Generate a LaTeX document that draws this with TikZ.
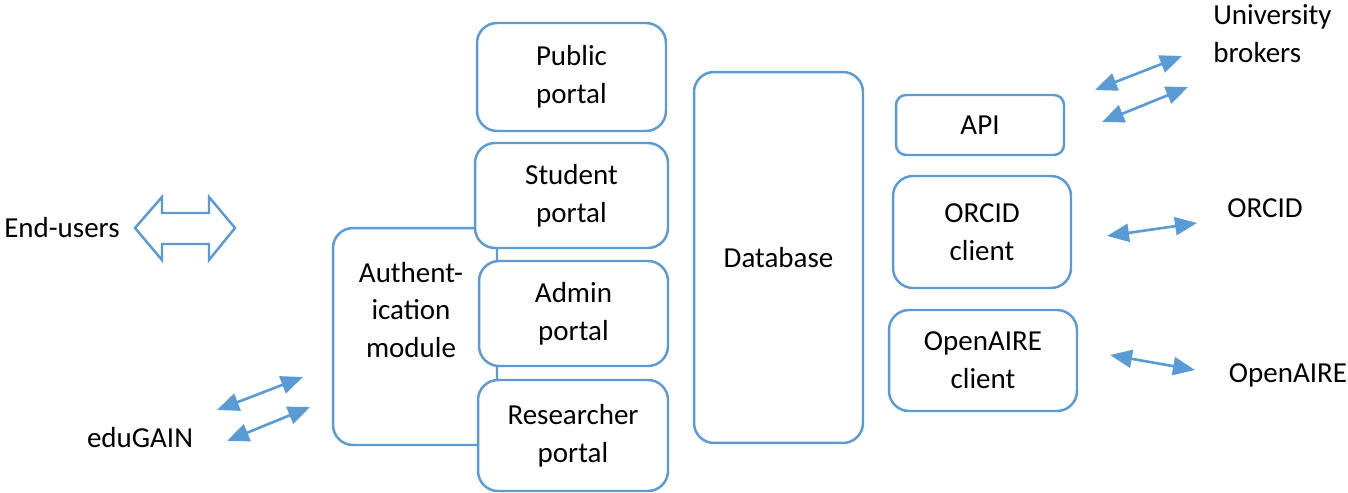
\documentclass[tikz,border=0pt]{standalone}
\usepackage{fontspec}
\setmainfont{Carlito}
\usetikzlibrary{arrows.meta}
\definecolor{boxblue}{HTML}{5B9BD5}

\begin{document}
\begin{tikzpicture}[
            x = 0.02cm, y = -0.02cm,
            every node/.style={font=\fontsize{16.5}{21.5}\selectfont, align=center, inner sep=0pt},
            box/.style={draw=boxblue, line width=1.4pt, fill=white, rounded corners=0.4cm},
            link/.style={boxblue, line width=1.5pt, {Triangle[length=0.44cm, width=0.36cm]}-{Triangle[length=0.44cm, width=0.36cm]}},
            ]
        \useasboundingbox (0, 0) rectangle (1348, 493);

        % authentication module sits behind the portals
        \node[box, minimum width=3.28cm, minimum height=4.34cm] (auth) at (415, 336.5) {};
        \node (authtext) at (411, 310) {Authent-\\ication\\module};

        \node[box, minimum width=3.78cm, minimum height=2.16cm] (public) at (571.5, 77) {Public\\portal};
        \node[box, minimum width=3.86cm, minimum height=2.10cm] (student) at (571.5, 195.5) {Student\\portal};
        \node[box, minimum width=3.78cm, minimum height=2.10cm] (admin) at (573.5, 313.5) {Admin\\portal};
        \node[box, minimum width=3.80cm, minimum height=2.22cm] (researcher) at (573, 435.5) {Researcher\\portal};

        \node[box, minimum width=3.38cm, minimum height=7.42cm] (database) at (778.5, 257.5) {Database};

        \node[box, rounded corners=0.2cm, minimum width=3.36cm, minimum height=1.20cm] (api) at (980, 125) {API};
        \node[box, minimum width=3.56cm, minimum height=2.24cm] (orcidc) at (982, 232) {ORCID\\client};
        \node[box, minimum width=3.76cm, minimum height=2.02cm] (openairec) at (983, 360.5) {OpenAIRE\\client};

        % outside parties
        \node (users) at (62, 228) {End-users};
        \node (edugain) at (140, 438) {eduGAIN};
        \node[align=left, anchor=west] (brokers) at (1213, 33.5) {University\\brokers};
        \node (orcid) at (1265, 208) {ORCID};
        \node (openaire) at (1288, 375) {OpenAIRE};

        % end-user double arrow
        \draw[boxblue, line width=1.4pt, line join=miter]
            (135, 228) -- (162, 197) -- (162, 213) -- (209, 213) -- (209, 197) -- (235, 228)
            -- (209, 260) -- (209, 244) -- (162, 244) -- (162, 260) -- cycle;

        % arrow ends
        \coordinate (e1a) at (217, 410);
        \coordinate (e1b) at (303, 377);
        \coordinate (e2a) at (227, 441);
        \coordinate (e2b) at (310, 407);
        \coordinate (u1a) at (1095, 90);
        \coordinate (u1b) at (1182, 56);
        \coordinate (u2a) at (1102, 122);
        \coordinate (u2b) at (1188, 87);
        \coordinate (o1a) at (1107, 236);
        \coordinate (o1b) at (1197, 223);
        \coordinate (p1a) at (1110, 355);
        \coordinate (p1b) at (1195, 370);

        \draw[link] (e1a) -- (e1b);
        \draw[link] (e2a) -- (e2b);
        \draw[link] (u1a) -- (u1b);
        \draw[link] (u2a) -- (u2b);
        \draw[link] (o1a) -- (o1b);
        \draw[link] (p1a) -- (p1b);
    \end{tikzpicture}
\end{document}
